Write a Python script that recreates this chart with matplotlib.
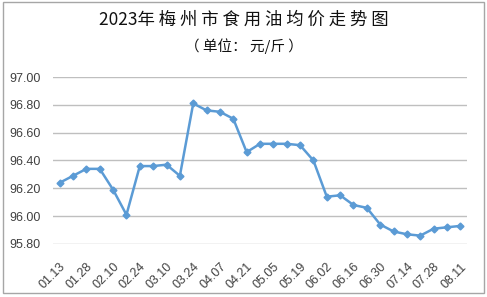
"""2023年梅州市食用油均价走势图"""

import matplotlib.pyplot as plt
from matplotlib.patches import Rectangle
import numpy as np

plt.rcParams['font.family'] = ['Liberation Sans', 'Noto Sans CJK SC', 'DejaVu Sans']

# weekly average price, yuan per jin
prices = [96.24, 96.29, 96.34, 96.34, 96.19, 96.01, 96.36, 96.36, 96.37, 96.29,
          96.81, 96.76, 96.75, 96.70, 96.46, 96.52, 96.52, 96.52, 96.51, 96.40,
          96.14, 96.15, 96.08, 96.06, 95.94, 95.89, 95.87, 95.86, 95.91, 95.92,
          95.93]
# only every other date is shown on the axis
date_labels = ['01.13', '01.28', '02.10', '02.24', '03.10', '03.24', '04.07', '04.21',
               '05.05', '05.19', '06.02', '06.16', '06.30', '07.14', '07.28', '08.11']
yticks = [95.80, 96.00, 96.20, 96.40, 96.60, 96.80, 97.00]

x = np.arange(len(prices))

fig = plt.figure(figsize=(4.87, 2.97), dpi=100)
ax = fig.add_axes([53 / 487, 1 - 244 / 297, 414 / 487, 167 / 297])

ax.plot(x, prices, color='#5B9BD5', linewidth=1.8, marker='D', markersize=3.5, zorder=3)

ax.set_xlim(-0.5, len(prices) - 0.5)
ax.set_ylim(yticks[0], yticks[-1])
ax.set_yticks(yticks)
ax.set_yticklabels([f'{v:.2f}' for v in yticks])
ax.set_xticks(x[::2])
ax.set_xticklabels(date_labels, rotation=45, ha='right', rotation_mode='anchor')
ax.tick_params(axis='both', length=0, labelsize=9, colors='#404040')
ax.tick_params(axis='x', pad=12)
ax.tick_params(axis='y', pad=9)
ax.grid(axis='y', color='#BFBFBF', linewidth=1.0)
ax.set_axisbelow(True)
for s in ax.spines.values():
    s.set_visible(False)

cjk = ['Noto Sans CJK SC', 'DejaVu Sans']
fig.text(0.5, 1 - 20 / 297, '2023年 梅 州 市 食 用 油 均 价 走 势 图', ha='center', va='center',
         fontsize=12.5, family=cjk, color='#111111')
fig.text(0.5, 1 - 46 / 297, '（ 单位： 元/斤 ）', ha='center', va='center',
         fontsize=10.5, family=cjk, color='#111111')

fig.patches.append(Rectangle((2.5 / 487, 1 - 293 / 297), 481.5 / 487, 291 / 297,
                             transform=fig.transFigure, fill=False,
                             edgecolor='#A6A6A6', linewidth=1.0))

fig.savefig('out.png', dpi=100)
